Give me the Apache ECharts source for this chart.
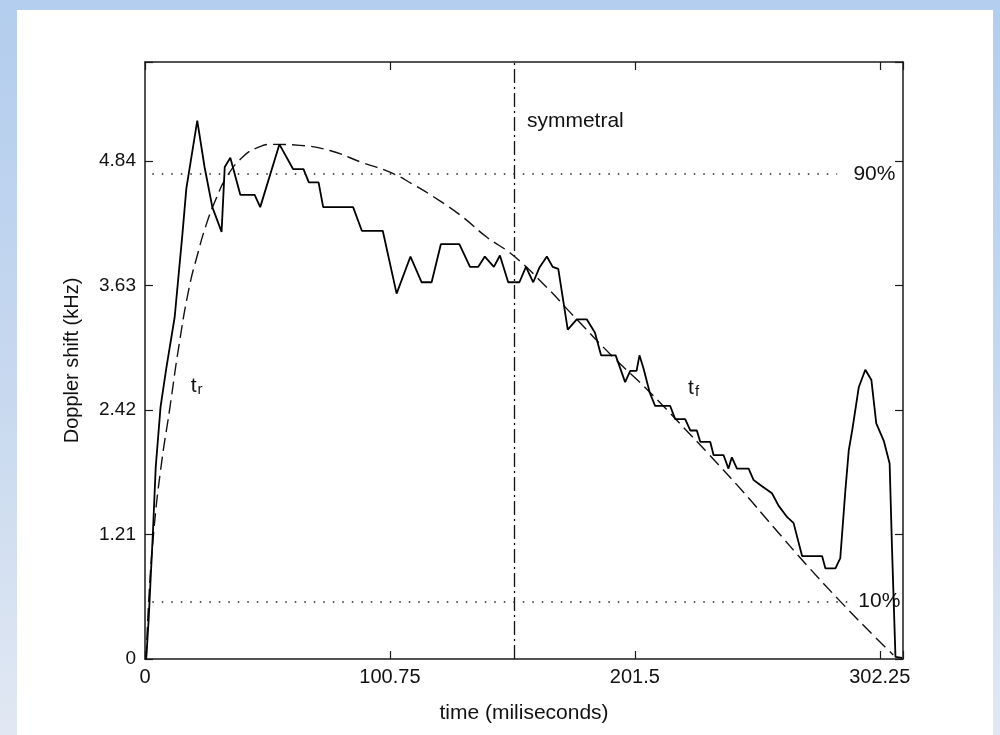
<!DOCTYPE html>
<html>
<head>
<meta charset="utf-8">
<script src="https://cdn.jsdelivr.net/npm/echarts@6/dist/echarts.min.js"></script>
<style>
  html, body { margin: 0; padding: 0; width: 1000px; height: 735px; overflow: hidden;
    background: linear-gradient(to bottom, #b3cdee 0%, #c8d9ef 55%, #e1e8f3 100%); }
  #panel { position: absolute; left: 17px; top: 10px; width: 976px; height: 725px; background: #fff; }
  #chart { position: absolute; left: 0; top: 0; width: 1000px; height: 735px; }
</style>
</head>
<body>
<div id="panel"></div>
<div id="chart"></div>
<script>
// tick labels
const xTicks = [0, 100.75, 201.5, 302.25];
const yTicks = [0, 1.21, 2.42, 3.63, 4.84];

// measured Doppler shift (solid)
const timeMs = [0.5, 1.5, 2.3, 3.3, 4.4, 6.4, 8.8, 12.2, 15.4, 17.0, 21.5, 24.5, 27.7, 31.5, 32.8, 35.1,
  39.2, 45.1, 47.4, 55.3, 60.9, 65.2, 67.4, 71.4, 73.3, 85.6, 89.2, 97.8, 103.5, 109.2, 113.8, 117.9,
  121.7, 129.3, 133.7, 137.1, 139.8, 143.5, 146.0, 149.4, 154.0, 156.7, 159.7, 162.2, 165.3, 167.7,
  170.0, 173.9, 177.6, 181.7, 185.1, 187.6, 193.6, 197.5, 199.6, 202.2, 203.4, 205.1, 207.6, 209.8,
  216.0, 218.1, 222.2, 224.3, 227.0, 228.4, 232.5, 233.9, 238.0, 240.0, 241.4, 243.5, 248.3, 250.3,
  253.1, 257.9, 260.6, 264.1, 266.8, 269.3, 270.3, 278.5, 279.9, 284.0, 286.0, 288.1, 289.5, 290.9,
  293.6, 296.3, 298.8, 300.8, 303.9, 306.3, 307.3, 308.7, 311.4];
const dopplerKHz = [0, 0.38, 0.77, 1.25, 1.86, 2.45, 2.83, 3.32, 4.13, 4.57, 5.23, 4.78, 4.39, 4.15, 4.78, 4.87,
  4.51, 4.51, 4.39, 5.0, 4.76, 4.76, 4.63, 4.63, 4.39, 4.39, 4.16, 4.16, 3.55, 3.91, 3.66, 3.66,
  4.03, 4.03, 3.81, 3.81, 3.91, 3.81, 3.92, 3.66, 3.66, 3.81, 3.66, 3.80, 3.91, 3.81,
  3.79, 3.20, 3.30, 3.30, 3.17, 2.95, 2.95, 2.69, 2.80, 2.80, 2.95, 2.82, 2.59, 2.46,
  2.46, 2.33, 2.33, 2.22, 2.22, 2.11, 2.11, 1.98, 1.98, 1.85, 1.96, 1.85, 1.85, 1.74,
  1.69, 1.61, 1.49, 1.38, 1.32, 1.09, 1.00, 1.00, 0.88, 0.88, 0.98, 1.64, 2.03, 2.22,
  2.64, 2.81, 2.71, 2.29, 2.12, 1.90, 1.06, 0.02, 0.01];

// fitted curve (dashed)
const fitTimeMs = [0.5, 1.5, 3.5, 6.5, 10.1, 14.0, 18.1, 21.5, 25.2, 29.4, 33.5, 40.3, 46.5, 52.5, 63.7,
  76.0, 89.7, 100.7, 110.3, 121.3, 130.9, 140.5, 151.5, 165.3, 174.8, 192.7, 203.0, 211.9, 221.5,
  231.1, 246.2, 258.6, 272.3, 286.0, 300.0, 307.8];
const fitKHz = [0, 0.55, 1.21, 1.85, 2.42, 3.05, 3.6, 3.92, 4.22, 4.48, 4.68, 4.88, 4.97, 5.0, 4.99,
  4.94, 4.82, 4.73, 4.61, 4.45, 4.29, 4.10, 3.92, 3.61, 3.37, 2.93, 2.70, 2.49, 2.25,
  2.01, 1.62, 1.28, 0.91, 0.56, 0.22, 0.04];

// reference lines
const symmetralMs = 152;
const level90 = 4.71;
const level10 = 0.56;

const FONT = '"Liberation Sans", Arial, Helvetica, sans-serif';

function tickFormatter(ticks) {
  return function (v) {
    const t = ticks.find(function (t) { return Math.abs(t - v) < 1e-6; });
    return t === undefined ? '' : String(t);
  };
}

const lineBox = { show: true, onZero: false, lineStyle: { color: '#1a1a1a', width: 1.5 } };
const tickIn = { show: true, inside: true, length: 8, lineStyle: { color: '#1a1a1a', width: 1.2 } };

const chart = echarts.init(document.getElementById('chart'));
chart.setOption({
  animation: false,
  grid: { left: 145, right: 97, top: 62, bottom: 76 },
  xAxis: [
    {
      type: 'value', min: 0, max: 311.8, interval: 100.75, position: 'bottom',
      axisLine: lineBox, axisTick: tickIn, splitLine: { show: false },
      axisLabel: { color: '#111', fontSize: 20, fontFamily: FONT, margin: 8, formatter: tickFormatter(xTicks) },
      name: 'time (miliseconds)', nameLocation: 'middle', nameGap: 44,
      nameTextStyle: { color: '#111', fontSize: 21, fontFamily: FONT }
    },
    {
      type: 'value', min: 0, max: 311.8, interval: 100.75, position: 'top',
      axisLine: lineBox, axisTick: tickIn, splitLine: { show: false }, axisLabel: { show: false }
    }
  ],
  yAxis: [
    {
      type: 'value', min: 0, max: 5.8, interval: 1.21, position: 'left',
      axisLine: lineBox, axisTick: tickIn, splitLine: { show: false },
      axisLabel: { color: '#111', fontSize: 19, fontFamily: FONT, margin: 9, formatter: tickFormatter(yTicks) },
      name: 'Doppler shift (kHz)', nameLocation: 'middle', nameGap: 63,
      nameTextStyle: { color: '#111', fontSize: 20, fontFamily: FONT, padding: [0, 0, 0, 0] }
    },
    {
      type: 'value', min: 0, max: 5.8, interval: 1.21, position: 'right',
      axisLine: lineBox, axisTick: tickIn, splitLine: { show: false }, axisLabel: { show: false }
    }
  ],
  series: [
    {
      name: 'fit', type: 'line', smooth: true, showSymbol: false, silent: true,
      data: fitTimeMs.map(function (t, i) { return [t, fitKHz[i]]; }),
      lineStyle: { color: '#111', width: 1.4, type: [13, 6] },
      markLine: {
        silent: true, symbol: ['none', 'none'], label: { show: false },
        data: [
          { xAxis: symmetralMs, lineStyle: { color: '#111', width: 1.3, type: [14, 4, 2, 4] } },
          [{ coord: [3, level90] }, { coord: [284.7, level90] }],
          [{ coord: [3, level10] }, { coord: [292.2, level10] }]
        ],
        lineStyle: { color: '#222', width: 1.5, type: [1.5, 8] }
      }
    },
    {
      name: 'Doppler shift', type: 'line', showSymbol: false, silent: true,
      data: timeMs.map(function (t, i) { return [t, dopplerKHz[i]]; }),
      lineStyle: { color: '#000', width: 1.8 },
      markPoint: {
        silent: true, symbol: 'circle', symbolSize: 0,
        label: {
          show: true, position: 'right', distance: 0, color: '#111', fontSize: 21, fontFamily: FONT,
          rich: {
            t: { fontSize: 21, fontFamily: FONT, color: '#111', lineHeight: 22, verticalAlign: 'top' },
            s: { fontSize: 15, fontFamily: FONT, color: '#111', lineHeight: 15, padding: [14, 0, 0, 1], verticalAlign: 'bottom' }
          }
        },
        data: [
          { coord: [157.1, 5.22], label: { formatter: 'symmetral' } },
          { coord: [291.4, level90], label: { formatter: '90%' } },
          { coord: [293.4, level10], label: { formatter: '10%' } },
          { coord: [18.8, 2.65], label: { formatter: '{t|t}{s|r}' } },
          { coord: [223.4, 2.63], label: { formatter: '{t|t}{s|f}' } }
        ]
      }
    }
  ]
});
</script>
</body>
</html>
